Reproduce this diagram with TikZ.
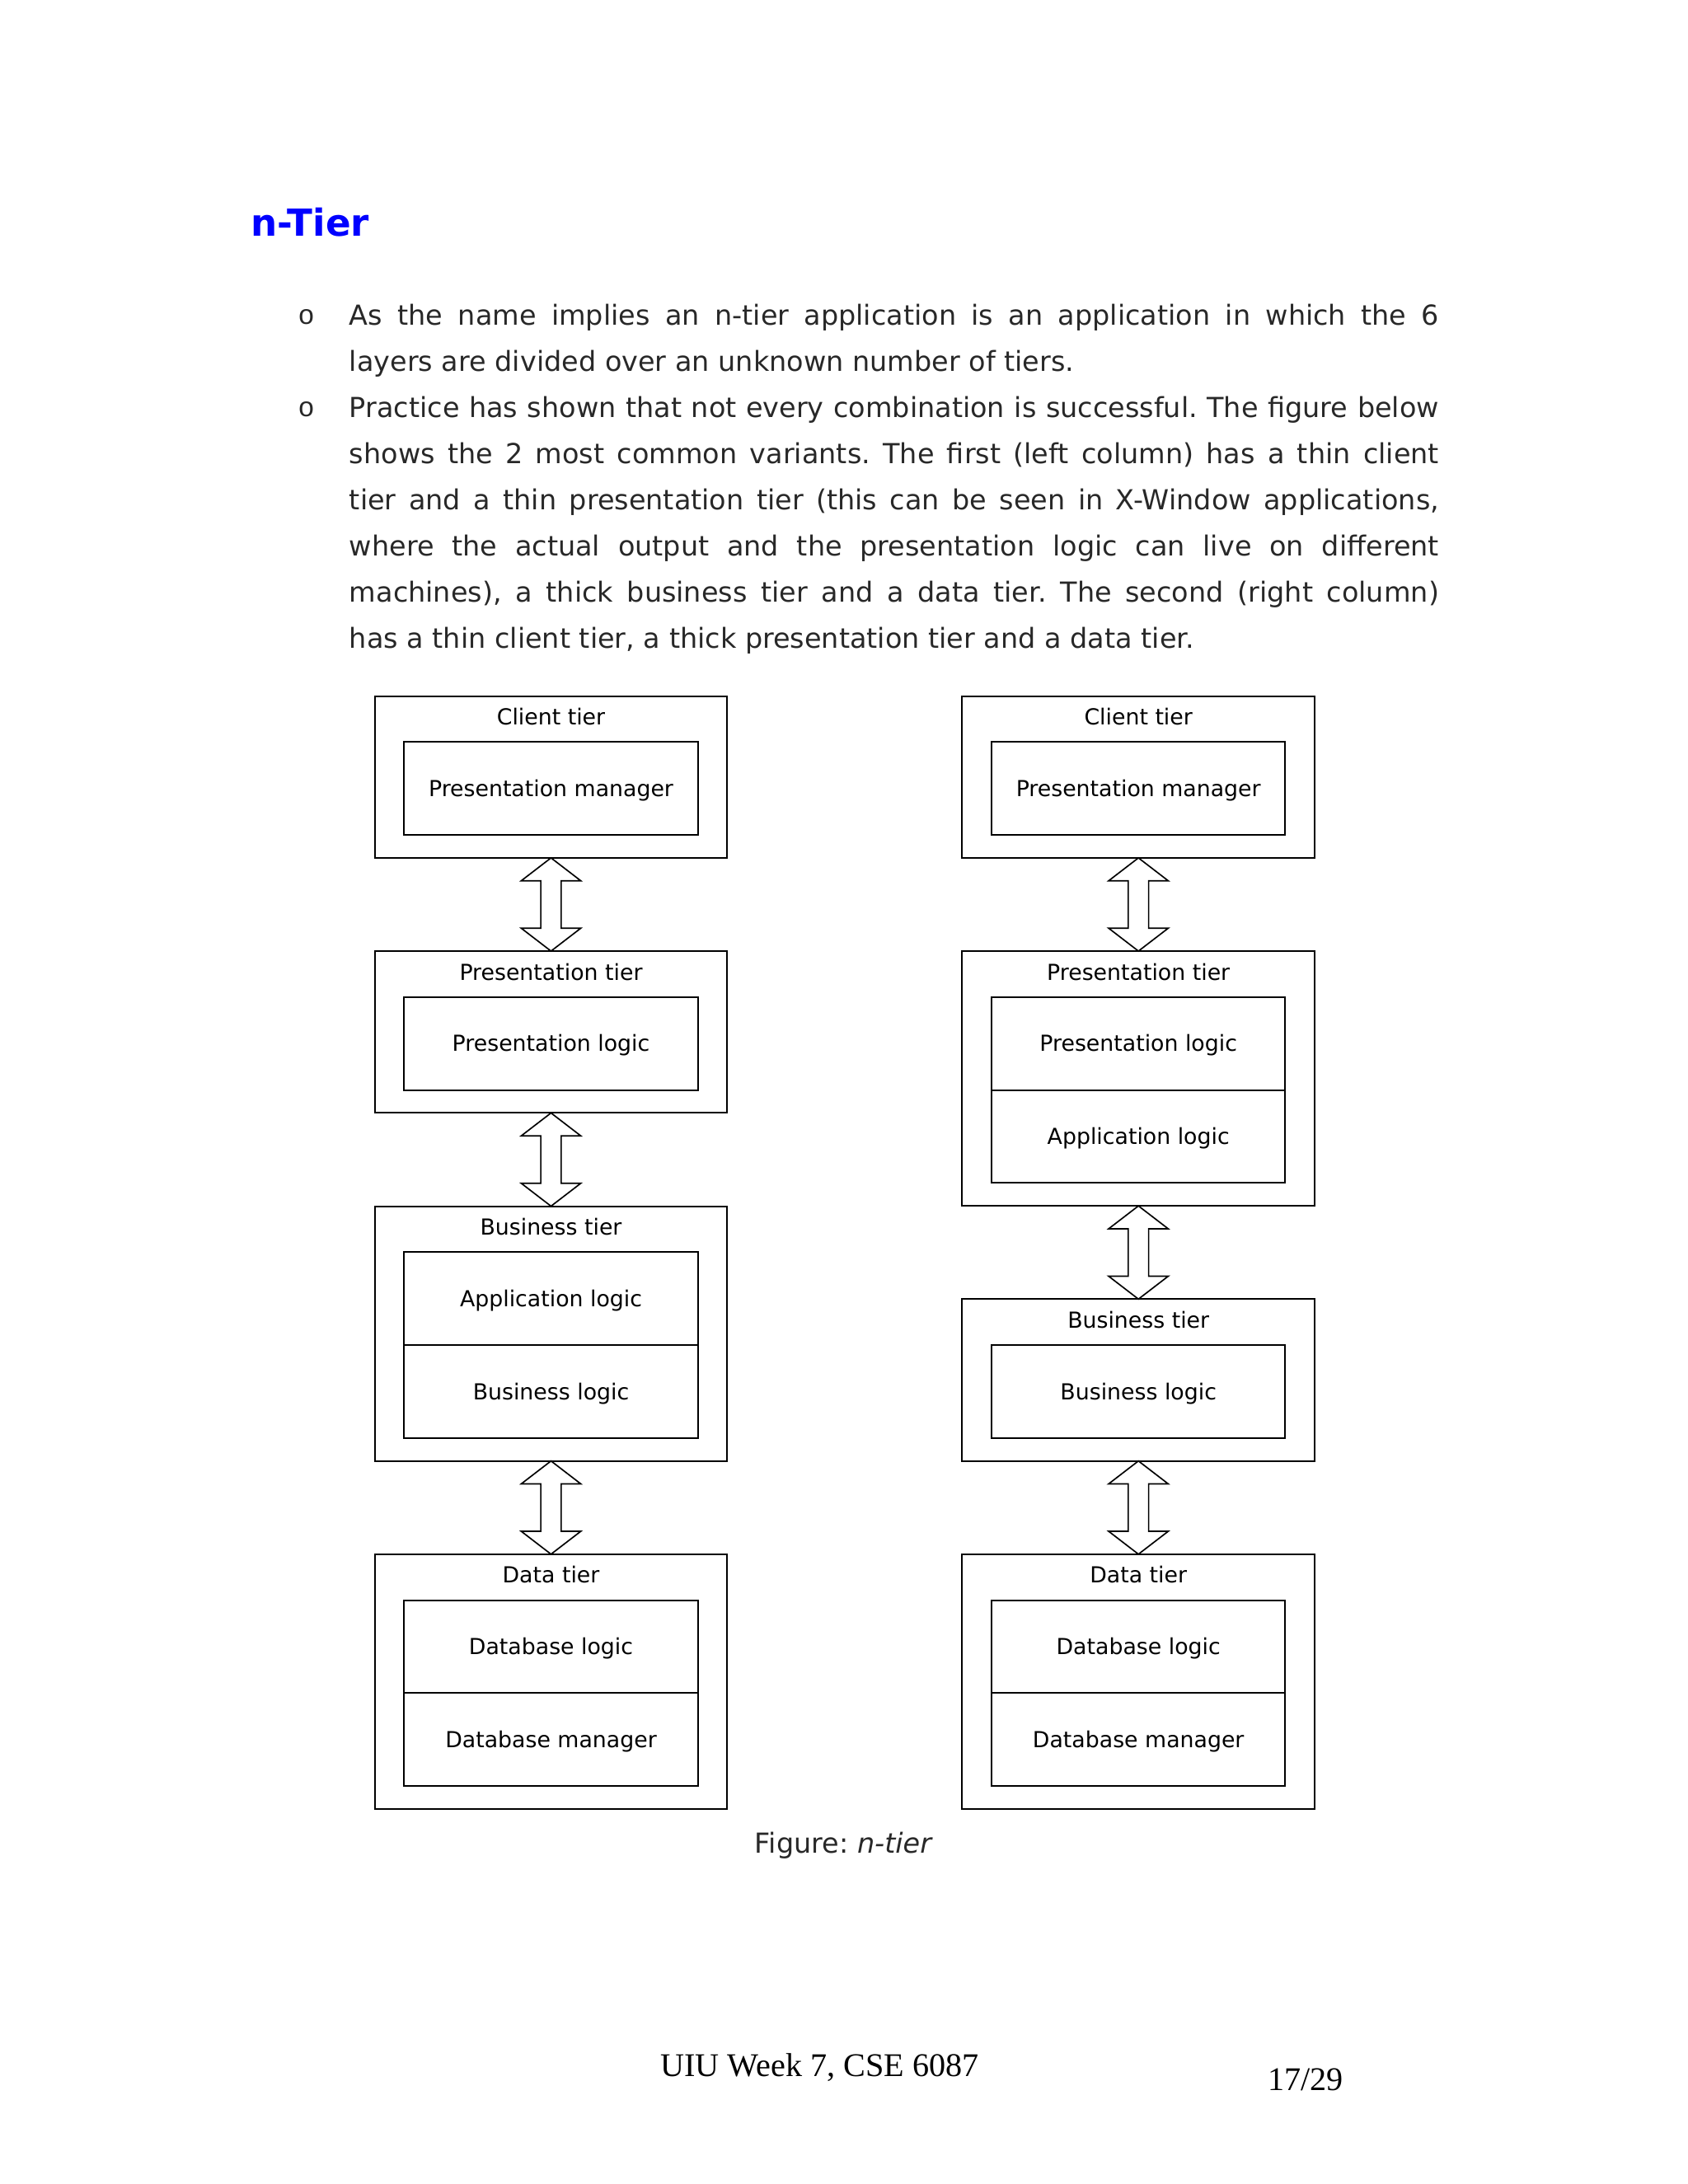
\documentclass[tikz,border=0pt]{standalone}
\usepackage{fontspec}
\setmainfont{DejaVu Sans}
\newfontfamily\footfont{Liberation Serif}
\newfontfamily\bulletfont{Liberation Mono}
\usepackage{tikz}
\usetikzlibrary{positioning,calc}
\definecolor{titleblue}{RGB}{0,0,255}
\definecolor{bodygray}{RGB}{40,40,40}
\tolerance=10000
\hbadness=10000
\frenchspacing

\tikzset{
  tierbox/.style={draw, line width=0.6pt, minimum width=127.8pt, inner sep=0pt, outer sep=0pt},
  onecell/.style={tierbox, minimum height=58.7pt},
  twocell/.style={tierbox, minimum height=92.4pt},
  tiertitle/.style={anchor=base, yshift=-10.5pt, inner sep=0pt, font=\fontsize{8}{9.6}\selectfont},
  cell/.style={draw, line width=0.6pt, minimum width=106.5pt, minimum height=33.7pt, inner sep=0pt, outer sep=0pt, text height=5.8pt, text depth=0pt, font=\fontsize{8}{9.6}\selectfont},
  link/.style={draw, line width=0.5pt, fill=white},
  bodytext/.style={anchor=north west, inner sep=0pt, text width=395.1pt, align=justify, text=bodygray, font=\fontsize{10}{16.75}\selectfont},
  bulletmark/.style={anchor=base, inner sep=0pt, text=bodygray, font=\bulletfont\fontsize{10}{12}\selectfont}
}

\newcommand{\tierlink}[2]{%
  \draw[link] let \p1=(#1.south), \p2=(#2.north) in
    (\p1) -- ++(10.8pt,-8.3pt) -- ++(-7.1pt,0pt) -- (\x1+3.7pt,\y2+8.3pt) -- ++(7.1pt,0pt) -- (\p2)
    -- ++(-10.8pt,8.3pt) -- ++(7.1pt,0pt) -- (\x1-3.7pt,\y1-8.3pt) -- ++(-7.1pt,0pt) -- cycle;}

\begin{document}
\begin{tikzpicture}[node distance=33.8pt]
\useasboundingbox (0pt,0pt) rectangle (612pt,-792pt);

\node[anchor=base west, inner sep=0pt, text=titleblue, font=\fontsize{13.5}{16}\selectfont\bfseries] (title) at (90.8pt,-85.5pt) {n-Tier};

\node[bulletmark] (bulletone) at (111.1pt,-117.6pt) {o};
\node[bodytext] (paraone) at (126.5pt,-109.6pt) {\rule{0pt}{8pt}As the name implies an n-tier application is an application in which the 6\linebreak layers are divided over an unknown number of tiers.};
\node[bulletmark] (bullettwo) at (111.1pt,-151.1pt) {o};
\node[bodytext] (paratwo) at (126.5pt,-143.1pt) {\rule{0pt}{8pt}Practice has shown that not every combination is successful. The figure below\linebreak shows the 2 most common variants. The first (left column) has a thin client\linebreak tier and a thin presentation tier (this can be seen in X-Window applications,\linebreak where the actual output and the presentation logic can live on different\linebreak machines), a thick business tier and a data tier. The second (right column)\linebreak has a thin client tier, a thick presentation tier and a data tier.};

\node[onecell, anchor=north, label={[tiertitle]north:Client tier}] (lclient) at (199.8pt,-252.4pt) {};
\node[cell, below=16.7pt of lclient.north] (lmanager) {Presentation manager};
\node[onecell, below=of lclient, label={[tiertitle]north:Presentation tier}] (lpres) {};
\node[cell, below=16.7pt of lpres.north] (lpreslogic) {Presentation logic};
\node[twocell, below=of lpres, label={[tiertitle]north:Business tier}] (lbus) {};
\node[cell, below=16.7pt of lbus.north] (lapplogic) {Application logic};
\node[cell, below=0pt of lapplogic] (lbuslogic) {Business logic};
\node[twocell, below=of lbus, label={[tiertitle]north:Data tier}] (ldata) {};
\node[cell, below=16.7pt of ldata.north] (ldblogic) {Database logic};
\node[cell, below=0pt of ldblogic] (ldbmanager) {Database manager};

\node[onecell, anchor=north, label={[tiertitle]north:Client tier}] (rclient) at (412.8pt,-252.4pt) {};
\node[cell, below=16.7pt of rclient.north] (rmanager) {Presentation manager};
\node[twocell, below=of rclient, label={[tiertitle]north:Presentation tier}] (rpres) {};
\node[cell, below=16.7pt of rpres.north] (rpreslogic) {Presentation logic};
\node[cell, below=0pt of rpreslogic] (rapplogic) {Application logic};
\node[onecell, below=of rpres, label={[tiertitle]north:Business tier}] (rbus) {};
\node[cell, below=16.7pt of rbus.north] (rbuslogic) {Business logic};
\node[twocell, below=of rbus, label={[tiertitle]north:Data tier}] (rdata) {};
\node[cell, below=16.7pt of rdata.north] (rdblogic) {Database logic};
\node[cell, below=0pt of rdblogic] (rdbmanager) {Database manager};

\tierlink{lclient}{lpres}
\tierlink{lpres}{lbus}
\tierlink{lbus}{ldata}
\tierlink{rclient}{rpres}
\tierlink{rpres}{rbus}
\tierlink{rbus}{rdata}

\node[anchor=base, inner sep=0pt, text=bodygray, font=\fontsize{10}{12}\selectfont] (caption) at (306pt,-671.9pt) {Figure: \textit{n-tier}};

\node[anchor=base west, inner sep=0pt, font=\footfont\fontsize{12}{14}\selectfont] (footer) at (239.3pt,-752.9pt) {UIU Week 7, CSE 6087};
\node[anchor=base west, inner sep=0pt, font=\footfont\fontsize{12}{14}\selectfont] (pagenum) at (459.5pt,-758pt) {17/29};
\end{tikzpicture}
\end{document}
